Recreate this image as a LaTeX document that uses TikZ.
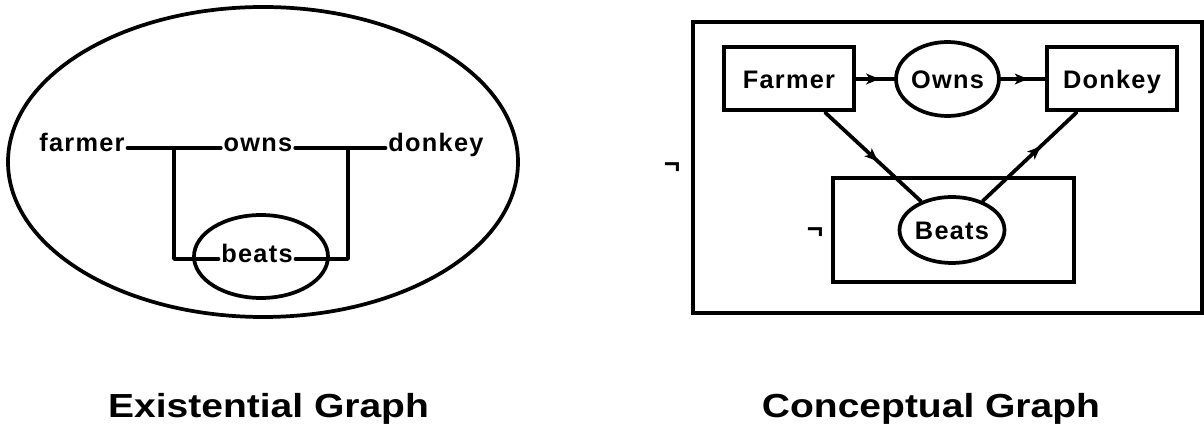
\documentclass[tikz,border=0pt]{standalone}
\usepackage{fontspec}
\setmainfont{Liberation Sans}
\newfontfamily\lblfont{Liberation Sans}[LetterSpace=5]
\usetikzlibrary{shapes.geometric,decorations.markings,arrows.meta}
\tikzset{
  ln/.style={line width=2.8pt, line cap=round, line join=round},
  lbl/.style={font=\lblfont\bfseries\fontsize{19pt}{21pt}\selectfont, inner sep=2pt},
  boxnode/.style={draw, line width=3pt, rectangle, inner sep=0pt, text height=13.7pt, text depth=0pt,
    font=\lblfont\bfseries\fontsize{19pt}{21pt}\selectfont},
  ovalnode/.style={draw, line width=2.8pt, ellipse, inner sep=0pt, text height=13.7pt, text depth=0pt,
    font=\lblfont\bfseries\fontsize{19pt}{21pt}\selectfont},
  negsign/.style={font=\bfseries\fontsize{21pt}{24pt}\selectfont, inner sep=0pt},
  title/.style={font=\bfseries\fontsize{25pt}{30pt}\selectfont, inner sep=0pt, anchor=base},
  midarrow/.style={postaction={decorate}, decoration={markings, mark=at position #1 with {\arrow{Stealth[length=10pt,width=8pt,inset=2.5pt]}}}},
  midarrow/.default=0.55
}
\begin{document}
\begin{tikzpicture}[x=0.75pt, y=-0.75pt]
\useasboundingbox (0,0) rectangle (1204,434);

% ---------- Existential graph ----------
\node[ovalnode, minimum width=382.5pt, minimum height=232.5pt] (eg) at (263,162) {};
\node[ovalnode, minimum width=100.5pt, minimum height=62.25pt] (cut) at (261,256.5) {};
\node[lbl, anchor=mid] (farmer) at (82,148) {farmer};
\node[lbl, anchor=mid] (owns) at (258,148) {owns};
\node[lbl, anchor=mid] (donkey) at (436,148) {donkey};
\node[lbl, anchor=mid] (beats) at (257,259) {beats};
\coordinate (j1) at (174,148);
\coordinate (j2) at (348,148);
\draw[ln] (farmer.mid east) -- (owns.mid west);
\draw[ln] (owns.mid east) -- (donkey.mid west);
\draw[ln] (beats.mid west) -| (j1);
\draw[ln] (beats.mid east) -| (j2);

% ---------- Conceptual graph ----------
\node[boxnode, minimum width=381.75pt, minimum height=218.25pt] (ctx) at (947.5,167.5) {};
\node[boxnode, minimum width=180.75pt, minimum height=78pt] (neg) at (953.5,230) {};
\node[boxnode, minimum width=97.5pt, minimum height=47.25pt] (Farmer) at (789,79) {Farmer};
\node[ovalnode, minimum width=71.25pt, minimum height=55.5pt] (Owns) at (947.5,79) {Owns};
\node[boxnode, minimum width=97.5pt, minimum height=47.25pt] (Donkey) at (1112,79) {Donkey};
\node[ovalnode, minimum width=78.75pt, minimum height=49.5pt] (Beats) at (952,230) {Beats};
\node[negsign] (not1) at (672,168) {¬};
\node[negsign] (not2) at (815,233) {¬};

\draw[ln, midarrow=0.62] (Farmer) -- (Owns);
\draw[ln, midarrow=0.62] (Owns) -- (Donkey);
\draw[ln, midarrow=0.55] (Farmer) -- (Beats);
\draw[ln, midarrow=0.62] (Beats) -- (Donkey);

% ---------- Titles ----------
\node[title] (t1) at (268.5,418) {\scalebox{1.17}[1]{Existential Graph}};
\node[title] (t2) at (931,418) {\scalebox{1.17}[1]{Conceptual Graph}};
\end{tikzpicture}
\end{document}
